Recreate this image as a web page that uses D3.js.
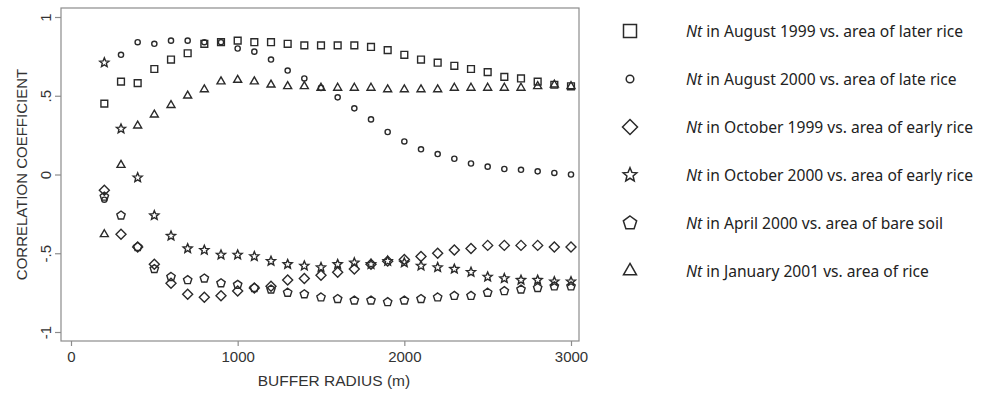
<!DOCTYPE html>
<html>
<head>
<meta charset="utf-8">
<script src="https://cdn.jsdelivr.net/npm/d3@7"></script>
<style>
  body { margin: 0; background: #fff; }
  svg { display: block; }
</style>
</head>
<body>
<div id="chart"></div>
<script>
// buffer radius (m)
const radius = [200, 300, 400, 500, 600, 700, 800, 900, 1000, 1100, 1200, 1300, 1400, 1500,
  1600, 1700, 1800, 1900, 2000, 2100, 2200, 2300, 2400, 2500, 2600, 2700, 2800, 2900, 3000];

// correlation coefficients
const aug1999 = [0.45, 0.59, 0.58, 0.67, 0.73, 0.77, 0.83, 0.84, 0.85, 0.84, 0.84, 0.83, 0.82, 0.82,
  0.82, 0.82, 0.81, 0.79, 0.76, 0.73, 0.71, 0.69, 0.67, 0.65, 0.62, 0.61, 0.59, 0.57, 0.56];
const aug2000 = [-0.16, 0.76, 0.84, 0.83, 0.85, 0.85, 0.84, 0.84, 0.80, 0.78, 0.73, 0.66, 0.61, 0.55,
  0.49, 0.42, 0.35, 0.27, 0.21, 0.16, 0.13, 0.10, 0.07, 0.05, 0.035, 0.03, 0.02, 0.01, 0.0];
const oct1999 = [-0.10, -0.38, -0.46, -0.57, -0.69, -0.76, -0.78, -0.77, -0.74, -0.72, -0.71, -0.67, -0.66, -0.64,
  -0.62, -0.60, -0.57, -0.55, -0.54, -0.52, -0.50, -0.48, -0.47, -0.45, -0.45, -0.45, -0.45, -0.46, -0.46];
const oct2000 = [0.71, 0.29, -0.02, -0.26, -0.39, -0.47, -0.48, -0.51, -0.51, -0.52, -0.55, -0.57, -0.58, -0.59,
  -0.57, -0.56, -0.57, -0.55, -0.56, -0.58, -0.59, -0.60, -0.62, -0.65, -0.66, -0.67, -0.67, -0.68, -0.68];
const apr2000 = [-0.14, -0.26, -0.46, -0.60, -0.65, -0.67, -0.66, -0.69, -0.70, -0.72, -0.73, -0.75, -0.76, -0.78,
  -0.79, -0.80, -0.80, -0.81, -0.80, -0.79, -0.78, -0.77, -0.77, -0.75, -0.74, -0.73, -0.72, -0.71, -0.71];
const jan2001 = [-0.38, 0.06, 0.31, 0.38, 0.44, 0.50, 0.54, 0.59, 0.60, 0.59, 0.57, 0.56, 0.56, 0.55,
  0.55, 0.55, 0.55, 0.54, 0.54, 0.54, 0.54, 0.55, 0.55, 0.55, 0.55, 0.55, 0.56, 0.57, 0.56];

const seriesLabels = [
  ['Nt', ' in August 1999 vs. area of later rice'],
  ['Nt', ' in August 2000 vs. area of late rice'],
  ['Nt', ' in October 1999 vs. area of early rice'],
  ['Nt', ' in October 2000 vs. area of early rice'],
  ['Nt', ' in April 2000 vs. area of bare soil'],
  ['Nt', ' in January 2001 vs. area of rice']
];
const xTicks = [0, 1000, 2000, 3000];
const yTicks = [-1, -0.5, 0, 0.5, 1];
const yTickText = ['-1', '-.5', '0', '.5', '1'];

const W = 984, H = 395;
const frame = { left: 61, top: 8, right: 579, bottom: 341 };
const ink = '#2a2a2a', axisInk = '#8c8c8c';

// marker shapes, r = rough radius in px
const shapes = {
  square: (p, r) => { p.rect(-r, -r, 2 * r, 2 * r); },
  circle: (p, r) => { p.moveTo(r, 0); p.arc(0, 0, r, 0, 2 * Math.PI); },
  diamond: (p, r) => { p.moveTo(0, -r); p.lineTo(r, 0); p.lineTo(0, r); p.lineTo(-r, 0); p.closePath(); },
  star: (p, r) => {
    const ri = r * 0.45;
    for (let i = 0; i < 10; i++) {
      const a = -Math.PI / 2 + i * Math.PI / 5;
      const rr = i % 2 ? ri : r;
      if (i === 0) p.moveTo(rr * Math.cos(a), rr * Math.sin(a));
      else p.lineTo(rr * Math.cos(a), rr * Math.sin(a));
    }
    p.closePath();
  },
  pentagon: (p, r) => {
    for (let i = 0; i < 5; i++) {
      const a = -Math.PI / 2 + i * 2 * Math.PI / 5;
      if (i === 0) p.moveTo(r * Math.cos(a), r * Math.sin(a));
      else p.lineTo(r * Math.cos(a), r * Math.sin(a));
    }
    p.closePath();
  },
  triangle: (p, r) => {
    const h = r * Math.sqrt(3) / 2;
    p.moveTo(0, -h * 2 / 3); p.lineTo(r / 2, h / 3); p.lineTo(-r / 2, h / 3); p.closePath();
  }
};
const shapePath = (name, r) => { const p = d3.path(); shapes[name](p, r); return p.toString(); };

const series = [
  { values: aug1999, shape: 'square', r: 3.4, lr: 6.5 },
  { values: aug2000, shape: 'circle', r: 2.6, lr: 3.8 },
  { values: oct1999, shape: 'diamond', r: 5, lr: 7.5 },
  { values: oct2000, shape: 'star', r: 4.8, lr: 7.2 },
  { values: apr2000, shape: 'pentagon', r: 4.4, lr: 7 },
  { values: jan2001, shape: 'triangle', r: 8, lr: 13 }
];

const svg = d3.select('#chart').append('svg')
  .attr('width', W).attr('height', H)
  .style('background-color', '#fff');

const x = d3.scaleLinear().domain([0, 3000]).range([71, 571]);
const y = d3.scaleLinear().domain([-1, 1]).range([332, 17]);

svg.append('rect')
  .attr('x', frame.left).attr('y', frame.top)
  .attr('width', frame.right - frame.left).attr('height', frame.bottom - frame.top)
  .attr('fill', 'none').attr('stroke', axisInk).attr('stroke-width', 1.2);

const xAxis = svg.append('g')
  .attr('transform', `translate(0, ${frame.bottom})`)
  .call(d3.axisBottom(x).tickValues(xTicks).tickSize(5).tickPadding(5).tickFormat(d3.format('d')));
xAxis.select('.domain').remove();
xAxis.selectAll('line').attr('stroke', axisInk).attr('stroke-width', 1.2);
xAxis.selectAll('text')
  .attr('fill', '#333').attr('font-family', 'Liberation Sans, Arial, sans-serif').attr('font-size', 15);

const yAxis = svg.append('g')
  .attr('transform', `translate(${frame.left}, 0)`)
  .call(d3.axisLeft(y).tickValues(yTicks).tickSize(6).tickFormat((d, i) => yTickText[i]));
yAxis.select('.domain').remove();
yAxis.selectAll('line').attr('stroke', axisInk).attr('stroke-width', 1.2);
yAxis.selectAll('text')
  .attr('x', null).attr('dy', null)
  .attr('transform', 'translate(-16, 0) rotate(-90)')
  .attr('text-anchor', 'middle').attr('dominant-baseline', 'central')
  .attr('fill', '#333').attr('font-family', 'Liberation Sans, Arial, sans-serif').attr('font-size', 15);

svg.append('text')
  .attr('x', (frame.left + frame.right) / 2 + 14).attr('y', 386)
  .attr('text-anchor', 'middle')
  .attr('fill', '#333').attr('font-family', 'Liberation Sans, Arial, sans-serif').attr('font-size', 15.5)
  .text('BUFFER RADIUS (m)');

svg.append('text')
  .attr('transform', `translate(21, ${(frame.top + frame.bottom) / 2}) rotate(-90)`)
  .attr('text-anchor', 'middle').attr('dominant-baseline', 'central')
  .attr('fill', '#333').attr('font-family', 'Liberation Sans, Arial, sans-serif').attr('font-size', 15)
  .text('CORRELATION COEFFICIENT');

// markers
series.forEach(s => {
  svg.append('g').selectAll('path')
    .data(s.values)
    .join('path')
    .attr('transform', (d, i) => `translate(${x(radius[i])}, ${y(d)})`)
    .attr('d', shapePath(s.shape, s.r))
    .attr('fill', 'none').attr('stroke', ink).attr('stroke-width', 1.4)
    .attr('stroke-linejoin', 'miter');
});

// legend
const legend = svg.append('g').attr('transform', 'translate(630, 31)');
const rows = legend.selectAll('g').data(series).join('g')
  .attr('transform', (d, i) => `translate(0, ${i * 48})`);
rows.append('path')
  .attr('d', d => shapePath(d.shape, d.lr))
  .attr('fill', 'none').attr('stroke', ink).attr('stroke-width', 1.5);
const lt = rows.append('text')
  .attr('x', 56).attr('dominant-baseline', 'central')
  .attr('fill', '#222').attr('font-family', 'Noto Sans, Open Sans, sans-serif').attr('font-size', 15.6);
lt.append('tspan').attr('font-style', 'italic').text((d, i) => seriesLabels[i][0]);
lt.append('tspan').text((d, i) => seriesLabels[i][1]);
</script>
</body>
</html>
